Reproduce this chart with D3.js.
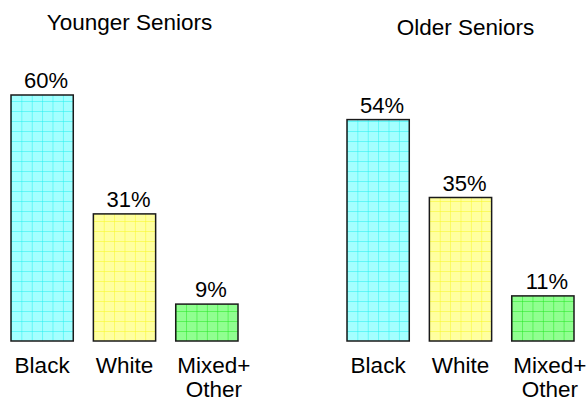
<!DOCTYPE html>
<html>
<head>
<meta charset="utf-8">
<script src="https://cdn.jsdelivr.net/npm/d3@7/dist/d3.min.js"></script>
<style>
  body { margin: 0; background: #fff; }
  text { font-family: "Liberation Sans", Arial, sans-serif; fill: #000; }
</style>
</head>
<body>
<script>
// data
var categories = ["Black", "White", "Mixed+\nOther"];
var groups = ["Younger Seniors", "Older Seniors"];
var youngerValues = [60, 31, 9];
var olderValues = [54, 35, 11];

var W = 588, H = 402;
var colors = [
  { fill: "#a4ffff", line: "#20f0f0" },
  { fill: "#ffffa0", line: "#f8f820" },
  { fill: "#90ff90", line: "#20e820" }
];

var svg = d3.select("body").append("svg")
  .attr("width", W)
  .attr("height", H);

var defs = svg.append("defs");

var y = d3.scaleLinear().domain([0, 60]).range([341, 95]);

var panels = [
  { title: groups[0], values: youngerValues, x0: 11, x1: 238, titleY: 30 },
  { title: groups[1], values: olderValues, x0: 347, x1: 574, titleY: 35 }
];

panels.forEach(function(p, pi) {
  var x = d3.scaleBand().domain(categories).range([p.x0, p.x1]).paddingInner(0.244).paddingOuter(0);
  var bw = x.bandwidth();
  var g = svg.append("g");

  g.append("text")
    .attr("x", (p.x0 + p.x1) / 2 + 5)
    .attr("y", p.titleY)
    .attr("text-anchor", "middle")
    .style("font-size", "22.5px")
    .text(p.title);

  categories.forEach(function(c, i) {
    var v = p.values[i];
    var bx = x(c), by = y(v), bh = y(0) - y(v);
    var col = colors[i];
    var pid = "pat" + pi + "_" + i;

    // grid pattern aligned to each bar
    var pat = defs.append("pattern")
      .attr("id", pid)
      .attr("patternUnits", "userSpaceOnUse")
      .attr("x", bx)
      .attr("y", y(0))
      .attr("width", bw / 6)
      .attr("height", 10);
    pat.append("rect").attr("width", bw / 6).attr("height", 10).attr("fill", col.fill);
    pat.append("line").attr("x1", 0).attr("x2", 0).attr("y1", 0).attr("y2", 10)
      .attr("stroke", col.line).attr("stroke-width", 1);
    pat.append("line").attr("x1", 0).attr("x2", bw / 6).attr("y1", 0).attr("y2", 0)
      .attr("stroke", col.line).attr("stroke-width", 1);

    g.append("rect")
      .attr("x", bx)
      .attr("y", by)
      .attr("width", bw)
      .attr("height", bh)
      .attr("fill", "url(#" + pid + ")")
      .attr("stroke", "#1a1a1a")
      .attr("stroke-width", 1.5);

    g.append("text")
      .attr("x", bx + bw / 2 + 4)
      .attr("y", by - 7)
      .attr("text-anchor", "middle")
      .style("font-size", "22px")
      .text(v + "%");

    var lines = c.split("\n");
    var shift = lines.length > 1 ? 7 : 0;
    var t = g.append("text")
      .attr("x", bx + bw / 2 + shift)
      .attr("y", 373)
      .attr("text-anchor", "middle")
      .style("font-size", "22.5px");
    lines.forEach(function(l, li) {
      t.append("tspan")
        .attr("x", bx + bw / 2 + shift)
        .attr("dy", li === 0 ? 0 : 24)
        .text(l);
    });
  });
});
</script>
</body>
</html>
